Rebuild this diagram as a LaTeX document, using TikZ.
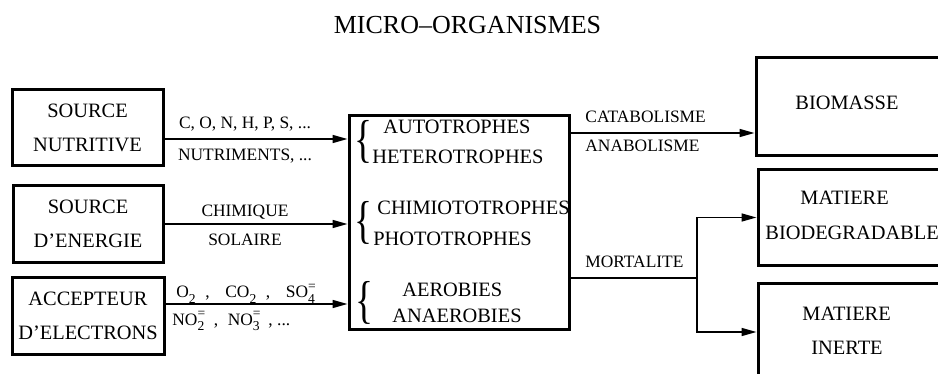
\documentclass[tikz,border=0pt]{standalone}
\usepackage{fontspec}
\setmainfont{Liberation Serif}
\usepackage{graphicx}
\usetikzlibrary{arrows.meta}

\tikzset{
  boite/.style={draw, line width=1.5pt, align=center, inner sep=0pt,
    font=\fontsize{10.2}{17}\selectfont},
  cadre/.style={draw, line width=1.5pt, inner sep=0pt},
  fleche/.style={line width=0.75pt, -{Triangle[length=7.5pt,width=4pt]}},
  etiq/.style={font=\fontsize{8.7}{10}\selectfont, inner sep=0pt, anchor=base},
  ligne/.style={font=\fontsize{10.2}{12}\selectfont, inner sep=0pt, anchor=base west},
}
\newcommand{\accol}{\resizebox*{9pt}{21.5pt}{\{}}
\newcommand{\petit}{\fontsize{6.8}{8}\selectfont}
\newcommand{\formule}[3]{#1\rlap{\raisebox{0.95ex}{\petit#3}}\raisebox{-0.65ex}{\petit#2}}

\begin{document}
\begin{tikzpicture}[x=0.5pt,y=-0.5pt]
    \useasboundingbox (0,0) rectangle (938,374);
    \clip (0,0) rectangle (938,374);
    \node[font=\fontsize{13}{15}\selectfont] (titre) at (467.5,25) {MICRO--ORGANISMES};
    \node[boite, minimum width=75.5pt, minimum height=38pt] (nutri) at (87.5,128) {SOURCE\\NUTRITIVE};
    \node[boite, minimum width=75pt, minimum height=38pt] (energie) at (88,224) {SOURCE\\D'ENERGIE};
    \node[boite, minimum width=76pt, minimum height=38.5pt] (accept) at (88,315.5) {ACCEPTEUR\\D'ELECTRONS};
    \node[cadre, minimum width=110pt, minimum height=106.5pt] (micro) at (459,222.5) {};
    \node[cadre, minimum width=102pt, minimum height=49pt] (bio) at (858,107) {};
    \node[cadre, minimum width=101pt, minimum height=47.5pt] (matb) at (859,217.5) {};
    \node[cadre, minimum width=101pt, minimum height=49pt] (mati) at (859,332) {};
    \node[inner sep=0pt] (acc1) at (363,141.5) {\accol};
    \node[inner sep=0pt] (acc2) at (363,222.5) {\accol};
    \node[inner sep=0pt] (acc3) at (364.5,303) {\accol};
    \node[ligne] (auto) at (383,134) {AUTOTROPHES};
    \node[ligne] (hetero) at (372,163) {HETEROTROPHES};
    \node[ligne] (chimio) at (377,214) {CHIMIOTOTROPHES};
    \node[ligne] (photo) at (373,245) {PHOTOTROPHES};
    \node[ligne] (aero) at (402,296) {AEROBIES};
    \node[ligne] (anaero) at (392,322) {ANAEROBIES};
    \node[ligne] (biotxt) at (795,110) {BIOMASSE};
    \node[ligne] (matbtxt) at (800,205) {MATIERE};
    \node[ligne] (degrad) at (765,240) {BIODEGRADABLE};
    \node[ligne] (matitxt) at (802,320) {MATIERE};
    \node[ligne] (inerte) at (811,354) {INERTE};
    \draw[fleche] (nutri.east |- 0,139) -- (micro.west |- 0,139);
    \draw[fleche] (energie.east) -- (micro.west |- energie.east);
    \draw[fleche] (accept.east |- 0,304) -- (micro.west |- 0,304);
    \node[etiq] (elem) at (245,129) {C, O, N, H, P, S, ...};
    \node[etiq] (nutrim) at (245,161) {NUTRIMENTS, ...};
    \node[etiq] (chim) at (245,217) {CHIMIQUE};
    \node[etiq] (sol) at (245,245) {SOLAIRE};
    \node[etiq, anchor=base west] (oxyd) at (176,298) {\formule{O}{2}{}\hspace{0.55em},\hspace{0.9em}\formule{CO}{2}{}\hspace{0.55em},\hspace{0.9em}\formule{SO}{4}{=}};
    \node[etiq, anchor=base west] (nitr) at (172,325) {\formule{NO}{2}{=}\hspace{0.55em},\hspace{0.55em}\formule{NO}{3}{=}\hspace{0.5em},\hspace{0.25em}...};
    \draw[fleche] (micro.east |- 0,133) -- (bio.west |- 0,133);
    \node[etiq, anchor=base west] (catab) at (585,123) {CATABOLISME};
    \node[etiq, anchor=base west] (anab) at (585,152) {ANABOLISME};
    \coordinate (fourche) at (697,278);
    \draw[line width=0.75pt] (micro.east |- fourche) -- (fourche);
    \draw[fleche] (fourche) |- (matb.west);
    \draw[fleche] (fourche) |- (mati.west);
    \node[etiq, anchor=base west] (mort) at (585,267) {MORTALITE};
\end{tikzpicture}
\end{document}
